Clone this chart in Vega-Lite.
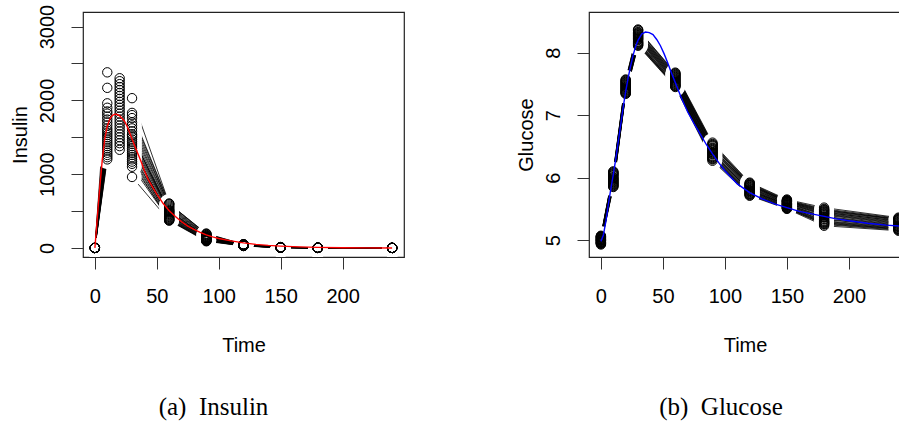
{
"$schema": "https://vega.github.io/schema/vega-lite/v6.json",
"background": "white",
"padding": {"left": 9, "top": 3, "right": 0, "bottom": 0},
"spacing": 185,
"bounds": "flush",
"config": {
 "view": {"stroke": "#222", "strokeWidth": 1.2},
 "axis": {"domain": false, "grid": false, "tickColor": "#333", "tickSize": 12, "tickWidth": 1, "labelFont": "Liberation Sans", "labelFontSize": 20, "labelColor": "black", "titleFont": "Liberation Sans", "titleFontSize": 20, "titleFontWeight": "normal", "titleColor": "black", "labelFlush": false, "labelOverlap": false},
 "axisX": {"labelPadding": 17, "titlePadding": 29},
 "axisY": {"labelAngle": 270, "labelAlign": "center", "labelBaseline": "bottom", "labelPadding": 14, "titlePadding": 7}
},
"datasets": {
 "subj": [
{"s":1,"t":0,"ins":0,"glu":5.05},{"s":1,"t":10,"ins":1850,"glu":6.08},{"s":1,"t":20,"ins":2300,"glu":7.55},{"s":1,"t":30,"ins":1760,"glu":8.35},{"s":1,"t":60,"ins":560,"glu":7.66},{"s":1,"t":90,"ins":170,"glu":6.53},{"s":1,"t":120,"ins":45,"glu":5.90},{"s":1,"t":150,"ins":9,"glu":5.63},{"s":1,"t":180,"ins":2,"glu":5.48},{"s":1,"t":240,"ins":0,"glu":5.34},
{"s":2,"t":0,"ins":0,"glu":4.95},{"s":2,"t":10,"ins":2380,"glu":5.88},{"s":2,"t":20,"ins":2100,"glu":7.36},{"s":2,"t":30,"ins":1540,"glu":8.13},{"s":2,"t":60,"ins":470,"glu":7.47},{"s":2,"t":90,"ins":140,"glu":6.30},{"s":2,"t":120,"ins":38,"glu":5.73},{"s":2,"t":150,"ins":7,"glu":5.51},{"s":2,"t":180,"ins":1,"glu":5.26},{"s":2,"t":240,"ins":0,"glu":5.17},
{"s":3,"t":0,"ins":0,"glu":5.00},{"s":3,"t":10,"ins":1560,"glu":5.97},{"s":3,"t":20,"ins":2260,"glu":7.45},{"s":3,"t":30,"ins":1830,"glu":8.24},{"s":3,"t":60,"ins":600,"glu":7.56},{"s":3,"t":90,"ins":190,"glu":6.41},{"s":3,"t":120,"ins":48,"glu":5.81},{"s":3,"t":150,"ins":11,"glu":5.57},{"s":3,"t":180,"ins":2,"glu":5.38},{"s":3,"t":240,"ins":0,"glu":5.25},
{"s":4,"t":0,"ins":0,"glu":5.07},{"s":4,"t":10,"ins":2170,"glu":6.10},{"s":4,"t":20,"ins":1980,"glu":7.57},{"s":4,"t":30,"ins":1380,"glu":8.37},{"s":4,"t":60,"ins":430,"glu":7.68},{"s":4,"t":90,"ins":120,"glu":6.56},{"s":4,"t":120,"ins":34,"glu":5.92},{"s":4,"t":150,"ins":6,"glu":5.65},{"s":4,"t":180,"ins":1,"glu":5.52},{"s":4,"t":240,"ins":0,"glu":5.36},
{"s":5,"t":0,"ins":0,"glu":4.97},{"s":5,"t":10,"ins":1700,"glu":5.92},{"s":5,"t":20,"ins":2220,"glu":7.40},{"s":5,"t":30,"ins":1700,"glu":8.18},{"s":5,"t":60,"ins":575,"glu":7.51},{"s":5,"t":90,"ins":175,"glu":6.35},{"s":5,"t":120,"ins":46,"glu":5.77},{"s":5,"t":150,"ins":10,"glu":5.54},{"s":5,"t":180,"ins":2,"glu":5.31},{"s":5,"t":240,"ins":0,"glu":5.21},
{"s":6,"t":0,"ins":0,"glu":5.02},{"s":6,"t":10,"ins":1960,"glu":6.01},{"s":6,"t":20,"ins":1860,"glu":7.49},{"s":6,"t":30,"ins":1290,"glu":8.28},{"s":6,"t":60,"ins":410,"glu":7.60},{"s":6,"t":90,"ins":110,"glu":6.46},{"s":6,"t":120,"ins":30,"glu":5.85},{"s":6,"t":150,"ins":5,"glu":5.60},{"s":6,"t":180,"ins":1,"glu":5.43},{"s":6,"t":240,"ins":0,"glu":5.29},
{"s":7,"t":0,"ins":0,"glu":4.93},{"s":7,"t":10,"ins":1440,"glu":5.85},{"s":7,"t":20,"ins":2180,"glu":7.34},{"s":7,"t":30,"ins":1800,"glu":8.11},{"s":7,"t":60,"ins":590,"glu":7.45},{"s":7,"t":90,"ins":185,"glu":6.27},{"s":7,"t":120,"ins":47,"glu":5.71},{"s":7,"t":150,"ins":10,"glu":5.50},{"s":7,"t":180,"ins":2,"glu":5.23},{"s":7,"t":240,"ins":0,"glu":5.15},
{"s":8,"t":0,"ins":0,"glu":5.04},{"s":8,"t":10,"ins":1820,"glu":6.05},{"s":8,"t":20,"ins":2140,"glu":7.52},{"s":8,"t":30,"ins":1620,"glu":8.31},{"s":8,"t":60,"ins":530,"glu":7.63},{"s":8,"t":90,"ins":160,"glu":6.50},{"s":8,"t":120,"ins":42,"glu":5.88},{"s":8,"t":150,"ins":8,"glu":5.62},{"s":8,"t":180,"ins":1,"glu":5.46},{"s":8,"t":240,"ins":0,"glu":5.32},
{"s":9,"t":0,"ins":0,"glu":4.99},{"s":9,"t":10,"ins":1260,"glu":5.95},{"s":9,"t":20,"ins":1620,"glu":7.43},{"s":9,"t":30,"ins":1500,"glu":8.22},{"s":9,"t":60,"ins":515,"glu":7.54},{"s":9,"t":90,"ins":150,"glu":6.39},{"s":9,"t":120,"ins":40,"glu":5.79},{"s":9,"t":150,"ins":8,"glu":5.56},{"s":9,"t":180,"ins":1,"glu":5.36},{"s":9,"t":240,"ins":0,"glu":5.23},
{"s":10,"t":0,"ins":0,"glu":5.01},{"s":10,"t":10,"ins":1900,"glu":5.99},{"s":10,"t":20,"ins":2060,"glu":7.47},{"s":10,"t":30,"ins":1440,"glu":8.26},{"s":10,"t":60,"ins":480,"glu":7.58},{"s":10,"t":90,"ins":130,"glu":6.44},{"s":10,"t":120,"ins":36,"glu":5.83},{"s":10,"t":150,"ins":7,"glu":5.59},{"s":10,"t":180,"ins":1,"glu":5.41},{"s":10,"t":240,"ins":0,"glu":5.27},
{"s":11,"t":0,"ins":0,"glu":4.96},{"s":11,"t":10,"ins":1620,"glu":5.90},{"s":11,"t":20,"ins":1940,"glu":7.38},{"s":11,"t":30,"ins":1660,"glu":8.16},{"s":11,"t":60,"ins":545,"glu":7.49},{"s":11,"t":90,"ins":165,"glu":6.33},{"s":11,"t":120,"ins":43,"glu":5.75},{"s":11,"t":150,"ins":9,"glu":5.53},{"s":11,"t":180,"ins":2,"glu":5.29},{"s":11,"t":240,"ins":0,"glu":5.19},
{"s":12,"t":0,"ins":0,"glu":5.06},{"s":12,"t":10,"ins":1350,"glu":6.07},{"s":12,"t":20,"ins":1540,"glu":7.54},{"s":12,"t":30,"ins":1200,"glu":8.33},{"s":12,"t":60,"ins":395,"glu":7.65},{"s":12,"t":90,"ins":105,"glu":6.52},{"s":12,"t":120,"ins":29,"glu":5.89},{"s":12,"t":150,"ins":5,"glu":5.63},{"s":12,"t":180,"ins":1,"glu":5.49},{"s":12,"t":240,"ins":0,"glu":5.33},
{"s":13,"t":0,"ins":0,"glu":4.98},{"s":13,"t":10,"ins":1780,"glu":5.93},{"s":13,"t":20,"ins":2020,"glu":7.41},{"s":13,"t":30,"ins":1580,"glu":8.20},{"s":13,"t":60,"ins":500,"glu":7.52},{"s":13,"t":90,"ins":150,"glu":6.37},{"s":13,"t":120,"ins":40,"glu":5.78},{"s":13,"t":150,"ins":8,"glu":5.55},{"s":13,"t":180,"ins":1,"glu":5.33},{"s":13,"t":240,"ins":0,"glu":5.22},
{"s":14,"t":0,"ins":0,"glu":5.03},{"s":14,"t":10,"ins":1500,"glu":6.03},{"s":14,"t":20,"ins":1700,"glu":7.50},{"s":14,"t":30,"ins":1470,"glu":8.30},{"s":14,"t":60,"ins":490,"glu":7.62},{"s":14,"t":90,"ins":140,"glu":6.48},{"s":14,"t":120,"ins":37,"glu":5.86},{"s":14,"t":150,"ins":7,"glu":5.61},{"s":14,"t":180,"ins":1,"glu":5.45},{"s":14,"t":240,"ins":0,"glu":5.30},
{"s":15,"t":0,"ins":0,"glu":4.94},{"s":15,"t":10,"ins":1740,"glu":5.87},{"s":15,"t":20,"ins":1820,"glu":7.35},{"s":15,"t":30,"ins":1350,"glu":8.12},{"s":15,"t":60,"ins":440,"glu":7.46},{"s":15,"t":90,"ins":125,"glu":6.29},{"s":15,"t":120,"ins":33,"glu":5.72},{"s":15,"t":150,"ins":6,"glu":5.51},{"s":15,"t":180,"ins":1,"glu":5.25},{"s":15,"t":240,"ins":0,"glu":5.16},
{"s":16,"t":0,"ins":0,"glu":5.00},{"s":16,"t":10,"ins":1200,"glu":5.96},{"s":16,"t":20,"ins":1380,"glu":7.44},{"s":16,"t":30,"ins":962,"glu":8.23},{"s":16,"t":60,"ins":370,"glu":7.55},{"s":16,"t":90,"ins":90,"glu":6.40},{"s":16,"t":120,"ins":26,"glu":5.80},{"s":16,"t":150,"ins":4,"glu":5.57},{"s":16,"t":180,"ins":0,"glu":5.37},{"s":16,"t":240,"ins":0,"glu":5.24},
{"s":17,"t":0,"ins":0,"glu":5.05},{"s":17,"t":10,"ins":1660,"glu":6.06},{"s":17,"t":20,"ins":1900,"glu":7.53},{"s":17,"t":30,"ins":2030,"glu":8.32},{"s":17,"t":60,"ins":600,"glu":7.64},{"s":17,"t":90,"ins":195,"glu":6.51},{"s":17,"t":120,"ins":50,"glu":5.88},{"s":17,"t":150,"ins":12,"glu":5.62},{"s":17,"t":180,"ins":3,"glu":5.47},{"s":17,"t":240,"ins":0,"glu":5.33},
{"s":18,"t":0,"ins":0,"glu":4.97},{"s":18,"t":10,"ins":1410,"glu":5.91},{"s":18,"t":20,"ins":1460,"glu":7.39},{"s":18,"t":30,"ins":1140,"glu":8.17},{"s":18,"t":60,"ins":385,"glu":7.50},{"s":18,"t":90,"ins":100,"glu":6.34},{"s":18,"t":120,"ins":28,"glu":5.76},{"s":18,"t":150,"ins":5,"glu":5.54},{"s":18,"t":180,"ins":1,"glu":5.30},{"s":18,"t":240,"ins":0,"glu":5.20},
{"s":19,"t":0,"ins":0,"glu":5.02},{"s":19,"t":10,"ins":1590,"glu":6.00},{"s":19,"t":20,"ins":1780,"glu":7.48},{"s":19,"t":30,"ins":1410,"glu":8.27},{"s":19,"t":60,"ins":460,"glu":7.59},{"s":19,"t":90,"ins":130,"glu":6.45},{"s":19,"t":120,"ins":35,"glu":5.84},{"s":19,"t":150,"ins":7,"glu":5.59},{"s":19,"t":180,"ins":1,"glu":5.42},{"s":19,"t":240,"ins":0,"glu":5.28},
{"s":20,"t":0,"ins":0,"glu":4.95},{"s":20,"t":10,"ins":1320,"glu":5.89},{"s":20,"t":20,"ins":1500,"glu":7.37},{"s":20,"t":30,"ins":1260,"glu":8.14},{"s":20,"t":60,"ins":420,"glu":7.48},{"s":20,"t":90,"ins":115,"glu":6.31},{"s":20,"t":120,"ins":31,"glu":5.74},{"s":20,"t":150,"ins":5,"glu":5.52},{"s":20,"t":180,"ins":1,"glu":5.27},{"s":20,"t":240,"ins":0,"glu":5.18},
{"s":21,"t":0,"ins":0,"glu":5.04},{"s":21,"t":10,"ins":1530,"glu":6.04},{"s":21,"t":20,"ins":1660,"glu":7.51},{"s":21,"t":30,"ins":1320,"glu":8.29},{"s":21,"t":60,"ins":450,"glu":7.61},{"s":21,"t":90,"ins":120,"glu":6.47},{"s":21,"t":120,"ins":33,"glu":5.87},{"s":21,"t":150,"ins":6,"glu":5.61},{"s":21,"t":180,"ins":1,"glu":5.44},{"s":21,"t":240,"ins":0,"glu":5.31},
{"s":22,"t":0,"ins":0,"glu":4.99},{"s":22,"t":10,"ins":1230,"glu":5.94},{"s":22,"t":20,"ins":1330,"glu":7.42},{"s":22,"t":30,"ins":1100,"glu":8.21},{"s":22,"t":60,"ins":380,"glu":7.53},{"s":22,"t":90,"ins":95,"glu":6.38},{"s":22,"t":120,"ins":27,"glu":5.79},{"s":22,"t":150,"ins":4,"glu":5.56},{"s":22,"t":180,"ins":0,"glu":5.34},{"s":22,"t":240,"ins":0,"glu":5.22},
{"s":23,"t":0,"ins":0,"glu":5.06},{"s":23,"t":10,"ins":1470,"glu":6.09},{"s":23,"t":20,"ins":1580,"glu":7.56},{"s":23,"t":30,"ins":1230,"glu":8.36},{"s":23,"t":60,"ins":400,"glu":7.67},{"s":23,"t":90,"ins":110,"glu":6.54},{"s":23,"t":120,"ins":30,"glu":5.91},{"s":23,"t":150,"ins":5,"glu":5.64},{"s":23,"t":180,"ins":1,"glu":5.50},{"s":23,"t":240,"ins":0,"glu":5.35},
{"s":24,"t":0,"ins":0,"glu":4.96},{"s":24,"t":10,"ins":1290,"glu":5.86},{"s":24,"t":20,"ins":1420,"glu":7.36},{"s":24,"t":30,"ins":1170,"glu":8.15},{"s":24,"t":60,"ins":375,"glu":7.47},{"s":24,"t":90,"ins":100,"glu":6.32},{"s":24,"t":120,"ins":28,"glu":5.74},{"s":24,"t":150,"ins":5,"glu":5.52},{"s":24,"t":180,"ins":1,"glu":5.28},{"s":24,"t":240,"ins":0,"glu":5.18},
{"s":25,"t":0,"ins":0,"glu":5.01},{"s":25,"t":10,"ins":1380,"glu":5.98},{"s":25,"t":20,"ins":1740,"glu":7.46},{"s":25,"t":30,"ins":1520,"glu":8.25},{"s":25,"t":60,"ins":505,"glu":7.57},{"s":25,"t":90,"ins":145,"glu":6.43},{"s":25,"t":120,"ins":39,"glu":5.82},{"s":25,"t":150,"ins":8,"glu":5.58},{"s":25,"t":180,"ins":1,"glu":5.40},{"s":25,"t":240,"ins":0,"glu":5.26}
 ],
 "insFit": [
{"t":0,"v":0},{"t":2,"v":420},{"t":4,"v":830},{"t":6,"v":1200},{"t":8,"v":1480},{"t":10,"v":1650},{"t":12,"v":1745},{"t":14,"v":1795},{"t":16,"v":1812},{"t":18,"v":1808},{"t":20,"v":1790},{"t":22,"v":1755},{"t":24,"v":1715},{"t":26,"v":1650},{"t":28,"v":1565},{"t":30,"v":1475},{"t":32,"v":1390},{"t":35,"v":1265},{"t":38,"v":1140},{"t":40,"v":1045},{"t":43,"v":930},{"t":46,"v":840},{"t":50,"v":730},{"t":55,"v":605},{"t":60,"v":505},{"t":65,"v":425},{"t":70,"v":355},{"t":75,"v":295},{"t":80,"v":250},{"t":85,"v":210},{"t":90,"v":178},{"t":95,"v":150},{"t":100,"v":128},{"t":110,"v":95},{"t":120,"v":68},{"t":130,"v":48},{"t":140,"v":34},{"t":150,"v":24},{"t":165,"v":14},{"t":180,"v":8},{"t":200,"v":3},{"t":220,"v":1},{"t":240,"v":0}
 ],
 "gluFit": [
{"t":0,"v":4.98},{"t":2,"v":5.08},{"t":4,"v":5.3},{"t":6,"v":5.57},{"t":8,"v":5.82},{"t":10,"v":6.05},{"t":12,"v":6.3},{"t":14,"v":6.58},{"t":16,"v":6.85},{"t":18,"v":7.13},{"t":20,"v":7.38},{"t":22,"v":7.6},{"t":24,"v":7.79},{"t":26,"v":7.96},{"t":28,"v":8.1},{"t":30,"v":8.2},{"t":33,"v":8.3},{"t":36,"v":8.33},{"t":39,"v":8.32},{"t":42,"v":8.29},{"t":45,"v":8.21},{"t":48,"v":8.11},{"t":51,"v":7.98},{"t":54,"v":7.83},{"t":57,"v":7.67},{"t":60,"v":7.52},{"t":65,"v":7.27},{"t":70,"v":7.05},{"t":75,"v":6.87},{"t":80,"v":6.7},{"t":85,"v":6.53},{"t":90,"v":6.38},{"t":95,"v":6.24},{"t":100,"v":6.11},{"t":110,"v":5.9},{"t":120,"v":5.76},{"t":130,"v":5.66},{"t":140,"v":5.58},{"t":150,"v":5.52},{"t":160,"v":5.46},{"t":170,"v":5.42},{"t":180,"v":5.38},{"t":190,"v":5.34},{"t":200,"v":5.31},{"t":215,"v":5.27},{"t":230,"v":5.24},{"t":245,"v":5.22}
 ]
},
"hconcat": [
 {
  "width": 321, "height": 245,
  "title": {"text": "(a)\u2002Insulin", "orient": "bottom", "anchor": "middle", "font": "Liberation Serif", "fontSize": 25, "fontWeight": "normal", "color": "black", "dx": -30, "offset": 40},
  "encoding": {
   "x": {"field": "t", "type": "quantitative", "scale": {"domain": [-9.6, 249.6], "nice": false, "zero": false}, "axis": {"values": [0, 50, 100, 150, 200], "title": "Time"}}
  },
  "layer": [
   {"data": {"name": "subj"}, "mark": {"type": "line", "color": "black", "strokeWidth": 0.8, "clip": true},
    "encoding": {"y": {"field": "ins", "type": "quantitative", "scale": {"domain": [-123, 3198], "nice": false, "zero": false}, "axis": {"values": [0, 500, 1000, 1500, 2000, 2500, 3000], "format": "d", "labelExpr": "datum.value % 1000 === 0 ? datum.label : ''", "title": "Insulin"}}, "detail": {"field": "s"}, "order": {"field": "t"}}},
   {"data": {"name": "subj"}, "mark": {"type": "point", "shape": "circle", "filled": true, "fill": "white", "strokeWidth": 0, "opacity": 1, "size": 380, "clip": true},
    "encoding": {"y": {"field": "ins", "type": "quantitative"}}},
   {"data": {"name": "subj"}, "mark": {"type": "point", "shape": "circle", "filled": false, "color": "black", "strokeWidth": 1, "opacity": 1, "size": 88, "clip": true},
    "encoding": {"y": {"field": "ins", "type": "quantitative"}}},
   {"data": {"name": "insFit"}, "mark": {"type": "line", "color": "#ff0000", "strokeWidth": 1.4, "clip": true},
    "encoding": {"y": {"field": "v", "type": "quantitative"}}}
  ]
 },
 {
  "width": 312, "height": 245,
  "title": {"text": "(b)\u2002Glucose", "orient": "bottom", "anchor": "middle", "font": "Liberation Serif", "fontSize": 25, "fontWeight": "normal", "color": "black", "dx": -24, "offset": 40},
  "encoding": {
   "x": {"field": "t", "type": "quantitative", "scale": {"domain": [-9.6, 242.0], "nice": false, "zero": false}, "axis": {"values": [0, 50, 100, 150, 200], "title": "Time"}}
  },
  "layer": [
   {"data": {"name": "subj"}, "mark": {"type": "line", "color": "black", "strokeWidth": 0.8, "clip": true},
    "encoding": {"y": {"field": "glu", "type": "quantitative", "scale": {"domain": [4.73, 8.65], "nice": false, "zero": false}, "axis": {"values": [5, 6, 7, 8], "format": "d", "title": "Glucose"}}, "detail": {"field": "s"}, "order": {"field": "t"}}},
   {"data": {"name": "subj"}, "mark": {"type": "point", "shape": "circle", "filled": true, "fill": "white", "strokeWidth": 0, "opacity": 1, "size": 380, "clip": true},
    "encoding": {"y": {"field": "glu", "type": "quantitative"}}},
   {"data": {"name": "subj"}, "mark": {"type": "point", "shape": "circle", "filled": false, "color": "black", "strokeWidth": 1, "opacity": 1, "size": 88, "clip": true},
    "encoding": {"y": {"field": "glu", "type": "quantitative"}}},
   {"data": {"name": "gluFit"}, "mark": {"type": "line", "color": "#0000ff", "strokeWidth": 1.4, "clip": true},
    "encoding": {"y": {"field": "v", "type": "quantitative"}}}
  ]
 }
]
}
